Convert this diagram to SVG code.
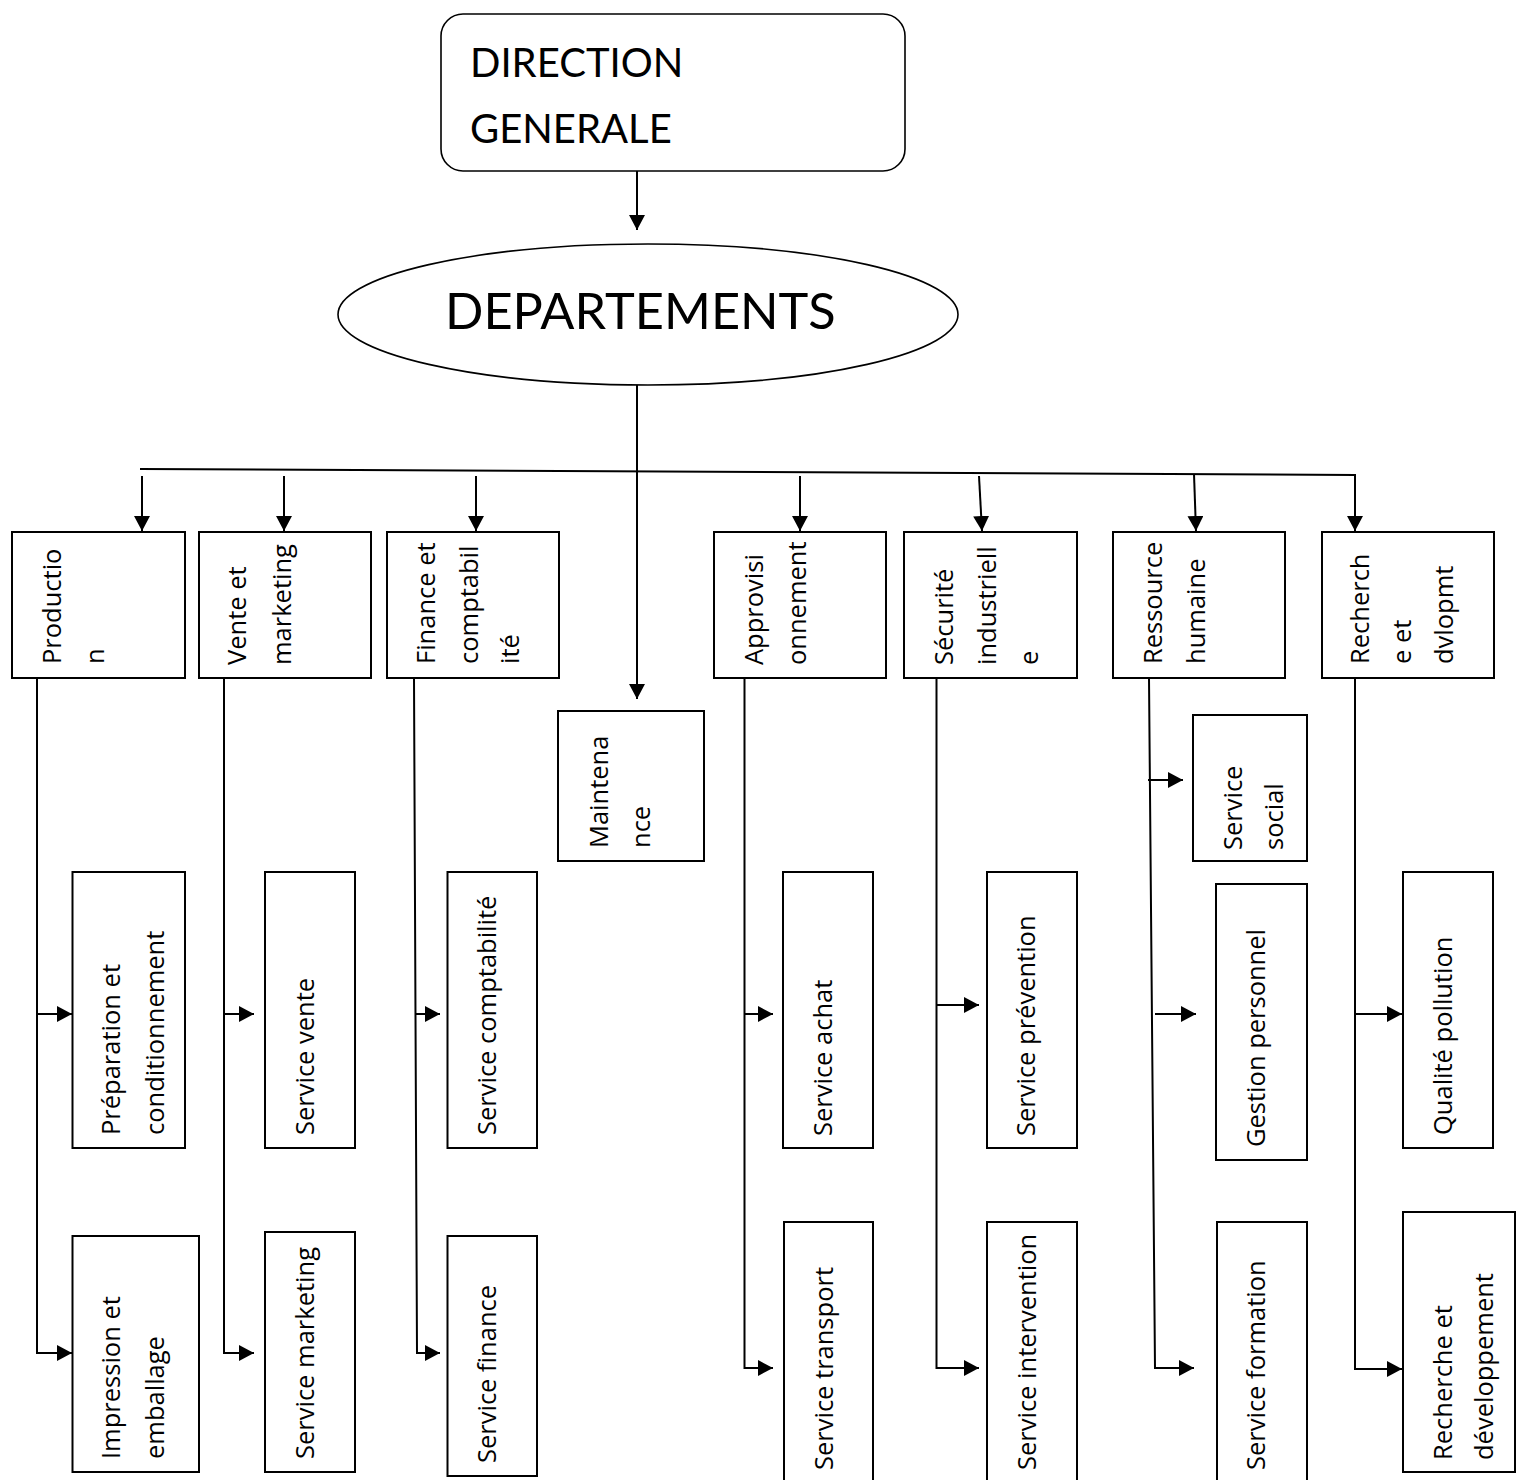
<svg xmlns="http://www.w3.org/2000/svg" width="1520" height="1480" viewBox="0 0 1520 1480">
  <style>
    .box { fill: #ffffff; stroke: #000000; stroke-width: 2; }
    .top { fill: #ffffff; stroke: #000000; stroke-width: 1.6; }
    .wire { fill: none; stroke: #000000; stroke-width: 2; }
    .arrow { fill: none; stroke: #000000; stroke-width: 2; marker-end: url(#head); }
    .title { font-family: Lato, "Liberation Sans", sans-serif; fill: #000000; }
    .v { font-family: "Open Sans", "DejaVu Sans", sans-serif; font-size: 25.5px; fill: #000000; }
  </style>
  <defs>
    <marker id="head" markerUnits="userSpaceOnUse" markerWidth="16" markerHeight="16" refX="15" refY="8" orient="auto">
      <path d="M0,0 L15,8 L0,16 Z" fill="#000000"/>
    </marker>
  </defs>

  <rect width="1520" height="1480" fill="#ffffff"/>

  <!-- connectors -->
  <g id="connectors">
    <line class="arrow" x1="637" y1="171" x2="637" y2="230"/>
    <line class="arrow" x1="637" y1="385" x2="637" y2="699"/>
    <polyline class="arrow" points="140,469 1355,475 1355,531"/>
    <line class="arrow" x1="142" y1="476" x2="142" y2="531"/>
    <line class="arrow" x1="284" y1="476" x2="284" y2="531"/>
    <line class="arrow" x1="476" y1="476" x2="476" y2="531"/>
    <line class="arrow" x1="800" y1="476" x2="800" y2="531"/>
    <line class="arrow" x1="979" y1="476" x2="982" y2="531"/>
    <line class="arrow" x1="1194" y1="474" x2="1196" y2="531"/>

    <!-- Production -->
    <polyline class="arrow" points="37,678 37,1353 72,1353"/>
    <line class="arrow" x1="37" y1="1014" x2="72" y2="1014"/>
    <!-- Vente et marketing -->
    <polyline class="arrow" points="224,678 224,1353 254,1353"/>
    <line class="arrow" x1="224" y1="1014" x2="254" y2="1014"/>
    <!-- Finance et comptabilité -->
    <polyline class="arrow" points="414,678 417,1353 440,1353"/>
    <line class="arrow" x1="416" y1="1014" x2="440" y2="1014"/>
    <!-- Approvisionnement -->
    <polyline class="arrow" points="744.5,678 744.5,1368 773,1368"/>
    <line class="arrow" x1="744.5" y1="1014" x2="773" y2="1014"/>
    <!-- Sécurité industrielle -->
    <polyline class="arrow" points="936.5,678 936.5,1368 979,1368"/>
    <line class="arrow" x1="936.5" y1="1005" x2="979" y2="1005"/>
    <!-- Ressource humaine -->
    <polyline class="arrow" points="1149,678 1155,1368 1194,1368"/>
    <line class="arrow" x1="1148" y1="780" x2="1183" y2="780"/>
    <line class="arrow" x1="1155" y1="1014" x2="1196" y2="1014"/>
    <!-- Recherche et développement -->
    <polyline class="arrow" points="1355,678 1355,1369 1402,1369"/>
    <line class="arrow" x1="1355" y1="1014" x2="1402" y2="1014"/>
  </g>

  <!-- head office -->
  <g id="direction-generale">
    <rect class="top" x="441" y="14" width="464" height="157" rx="22" ry="22"/>
    <text class="title" font-size="40" x="470" y="77">DIRECTION</text>
    <text class="title" font-size="40" x="470" y="143">GENERALE</text>
  </g>

  <g id="departements">
    <ellipse class="top" cx="648" cy="314.5" rx="310" ry="70.5"/>
    <text class="title" font-size="50.5" x="445" y="329">DEPARTEMENTS</text>
  </g>

  <!-- departments -->
  <g id="production">
    <rect class="box" x="12" y="532" width="173" height="146"/>
    <text class="v" transform="translate(61,664) rotate(-90)">Productio<tspan x="0" dy="43">n</tspan></text>
  </g>
  <g id="vente-marketing">
    <rect class="box" x="199" y="532" width="172" height="146"/>
    <text class="v" transform="translate(246,665) rotate(-90)">Vente et<tspan x="0" dy="45">marketing</tspan></text>
  </g>
  <g id="finance-comptabilite">
    <rect class="box" x="387" y="532" width="172" height="146"/>
    <text class="v" transform="translate(435,664) rotate(-90)">Finance et<tspan x="0" dy="43">comptabil</tspan><tspan x="0" dy="41">ité</tspan></text>
  </g>
  <g id="maintenance">
    <rect class="box" x="558" y="711" width="146" height="150"/>
    <text class="v" transform="translate(608,848) rotate(-90)">Maintena<tspan x="0" dy="42">nce</tspan></text>
  </g>
  <g id="approvisionnement">
    <rect class="box" x="714" y="532" width="172" height="146"/>
    <text class="v" transform="translate(763,665) rotate(-90)">Approvisi<tspan x="0" dy="43">onnement</tspan></text>
  </g>
  <g id="securite-industrielle">
    <rect class="box" x="904" y="532" width="173" height="146"/>
    <text class="v" transform="translate(953,665) rotate(-90)">Sécurité<tspan x="0" dy="43">industriell</tspan><tspan x="0" dy="42">e</tspan></text>
  </g>
  <g id="ressource-humaine">
    <rect class="box" x="1113" y="532" width="172" height="146"/>
    <text class="v" transform="translate(1162,664) rotate(-90)">Ressource<tspan x="0" dy="43">humaine</tspan></text>
  </g>
  <g id="recherche-dvlopmt">
    <rect class="box" x="1322" y="532" width="172" height="146"/>
    <text class="v" transform="translate(1369,664) rotate(-90)">Recherch<tspan x="0" dy="42">e et</tspan><tspan x="0" dy="42">dvlopmt</tspan></text>
  </g>

  <!-- services -->
  <g id="preparation-conditionnement">
    <rect class="box" x="72.5" y="872" width="112.5" height="276"/>
    <text class="v" transform="translate(120,1135) rotate(-90)">Préparation et<tspan x="0" dy="44">conditionnement</tspan></text>
  </g>
  <g id="impression-emballage">
    <rect class="box" x="72.5" y="1236" width="126.5" height="236"/>
    <text class="v" transform="translate(120,1459) rotate(-90)">Impression et<tspan x="0" dy="44">emballage</tspan></text>
  </g>
  <g id="service-vente">
    <rect class="box" x="265" y="872" width="90" height="276"/>
    <text class="v" transform="translate(314,1135) rotate(-90)">Service vente</text>
  </g>
  <g id="service-marketing">
    <rect class="box" x="265" y="1232" width="90" height="240"/>
    <text class="v" transform="translate(314,1459) rotate(-90)">Service marketing</text>
  </g>
  <g id="service-comptabilite">
    <rect class="box" x="447.5" y="872" width="89.5" height="276"/>
    <text class="v" transform="translate(496,1135) rotate(-90)">Service comptabilité</text>
  </g>
  <g id="service-finance">
    <rect class="box" x="447.5" y="1236" width="89.5" height="240"/>
    <text class="v" transform="translate(496,1463) rotate(-90)">Service finance</text>
  </g>
  <g id="service-achat">
    <rect class="box" x="783" y="872" width="90" height="276"/>
    <text class="v" transform="translate(832,1136) rotate(-90)">Service achat</text>
  </g>
  <g id="service-transport">
    <rect class="box" x="784" y="1222" width="89" height="270"/>
    <text class="v" transform="translate(833,1470) rotate(-90)">Service transport</text>
  </g>
  <g id="service-prevention">
    <rect class="box" x="987" y="872" width="90" height="276"/>
    <text class="v" transform="translate(1035,1136) rotate(-90)">Service prévention</text>
  </g>
  <g id="service-intervention">
    <rect class="box" x="987" y="1222" width="90" height="270"/>
    <text class="v" transform="translate(1036,1470) rotate(-90)">Service intervention</text>
  </g>
  <g id="service-social">
    <rect class="box" x="1193" y="715" width="114" height="146"/>
    <text class="v" transform="translate(1242,850) rotate(-90)">Service<tspan x="0" dy="41">social</tspan></text>
  </g>
  <g id="gestion-personnel">
    <rect class="box" x="1216" y="884" width="91" height="276"/>
    <text class="v" transform="translate(1265,1147) rotate(-90)">Gestion personnel</text>
  </g>
  <g id="service-formation">
    <rect class="box" x="1217" y="1222" width="90" height="270"/>
    <text class="v" transform="translate(1265,1470) rotate(-90)">Service formation</text>
  </g>
  <g id="qualite-pollution">
    <rect class="box" x="1403" y="872" width="90" height="276"/>
    <text class="v" transform="translate(1452,1135) rotate(-90)">Qualité pollution</text>
  </g>
  <g id="recherche-developpement">
    <rect class="box" x="1403" y="1212" width="112" height="260"/>
    <text class="v" transform="translate(1452,1460) rotate(-90)">Recherche et<tspan x="0" dy="41">développement</tspan></text>
  </g>
</svg>
